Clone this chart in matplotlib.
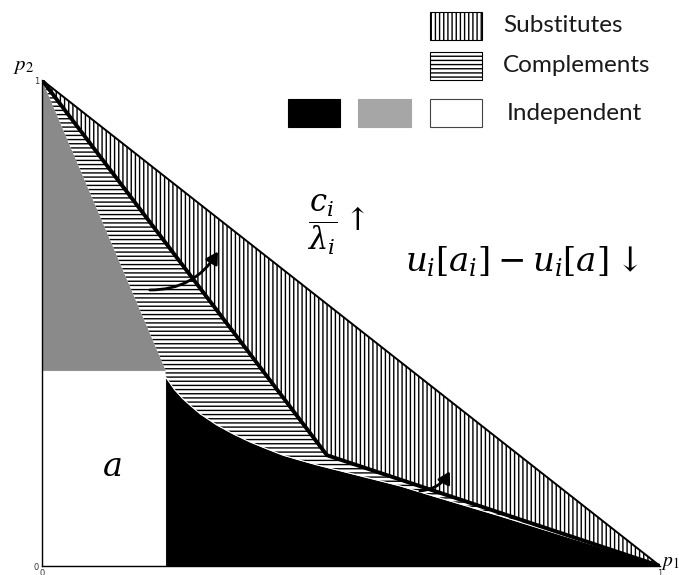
import matplotlib.pyplot as plt
import numpy as np
from matplotlib.patches import Polygon, Rectangle, FancyArrowPatch

plt.rcParams['mathtext.fontset'] = 'stix'
plt.rcParams['hatch.linewidth'] = 1.0

# corner of the independent box a = (a1, a2)
a_point = (0.2, 0.403)
# kink of the thick boundary between substitutes and complements
kink = (0.461, 0.228)
# upper edge of the black independent region
black_x = [0.2, 0.215, 0.228, 0.243, 0.256, 0.283, 0.309, 0.337, 0.364,
           0.390, 0.417, 0.445, 0.498, 0.579, 0.633, 0.741, 0.903, 1.0]
black_y = [0.389, 0.362, 0.344, 0.327, 0.313, 0.290, 0.272, 0.255, 0.241,
           0.228, 0.218, 0.208, 0.191, 0.165, 0.144, 0.103, 0.039, 0.0]

legend_rows = ["Substitutes", "Complements", "Independent"]

fig = plt.figure(figsize=(6.79, 5.75), dpi=100)
W, H = 679, 575
ax = fig.add_axes([42 / W, 9 / H, 618 / W, 486 / H])
ax.set_xlim(0, 1)
ax.set_ylim(0, 1)

# white box a, gray wedge above it
ax.add_patch(Rectangle((0, 0), a_point[0], a_point[1], facecolor='white',
                       edgecolor='#999999', lw=0.8, zorder=1))
ax.add_patch(Polygon([(0, a_point[1]), (0, 1), a_point], closed=True,
                     facecolor='#8a8a8a', lw=0, zorder=1))

# black region under the curve
bx = np.array(black_x)
by = np.array(black_y)
ax.fill_between(bx, 0, by, color='black', lw=0, zorder=2)

# complements: between gray/black edge and the thick line
comp = [(0, 1), a_point] + list(zip(bx, by)) + [kink]
ax.add_patch(Polygon(comp, closed=True, facecolor='white', edgecolor='black',
                     hatch='----', lw=0, zorder=2))

# substitutes: between thick line and p1 + p2 = 1
subs = [(0, 1), kink, (1, 0)]
ax.add_patch(Polygon(subs, closed=True, facecolor='white', edgecolor='black',
                     hatch='||||', lw=0, zorder=2))

ax.plot(bx, by, color='white', lw=0.8, zorder=3)
ax.plot([0, 1], [1, 0], color='black', lw=1.4, zorder=4)
ax.plot([0, kink[0], 1], [1, kink[1], 0], color='black', lw=2.8,
        solid_joinstyle='miter', zorder=4)

# curved arrows showing how the regions move
for tail, head in [((0.170, 0.568), (0.287, 0.652)),
                   ((0.607, 0.154), (0.662, 0.200))]:
    ax.add_patch(FancyArrowPatch(tail, head, connectionstyle='arc3,rad=0.3',
                                 arrowstyle='-|>,head_length=7,head_width=4',
                                 color='black', lw=2, zorder=5))

ax.text(0.113, 0.205, r'$a$', fontsize=24, ha='center', va='center',
        math_fontfamily='dejavuserif', zorder=6)
ax.text(0.428, 0.703, r'$\dfrac{c_i}{\lambda_i}\uparrow$', fontsize=22,
        ha='left', va='center', math_fontfamily='dejavuserif', zorder=6)
ax.text(0.588, 0.625, r'$u_i[a_i] - u_i[a]\downarrow$', fontsize=24.5,
        ha='left', va='center', math_fontfamily='dejavuserif', zorder=6)

for side in ['top', 'right']:
    ax.spines[side].set_visible(False)
for side in ['left', 'bottom']:
    ax.spines[side].set_linewidth(1.0)
    ax.spines[side].set_zorder(6)
ax.set_xticks([0, 1])
ax.set_yticks([0, 1])
ax.tick_params(length=0, pad=2, labelsize=6, colors='#333333')

fig.text(13 / W, 1 - 66 / H, r'$p_2$', fontsize=15, ha='left', va='center')
fig.text(661 / W, 1 - 562 / H, r'$p_1$', fontsize=14, ha='left', va='center')

# legend boxes drawn in pixel positions
def box(x0, y0, x1, y1, **kw):
    fig.patches.append(Rectangle((x0 / W, 1 - y1 / H), (x1 - x0) / W,
                                 (y1 - y0) / H, transform=fig.transFigure,
                                 figure=fig, **kw))

box(430, 12, 482, 40, facecolor='white', edgecolor='black', hatch='||||', lw=0.8)
box(430, 52, 482, 80, facecolor='white', edgecolor='black', hatch='----', lw=0.8)
box(288, 99, 340, 127, facecolor='black', edgecolor='black', lw=0.8)
box(358, 99, 411, 127, facecolor='#a6a6a6', edgecolor='#a6a6a6', lw=0.8)
box(430, 99, 482, 127, facecolor='white', edgecolor='#444444', lw=0.8)

for label, ty, tx in zip(legend_rows, [25, 66, 113], [503, 503, 507]):
    fig.text(tx / W, 1 - ty / H, label, fontsize=17.5, family='Lato',
             ha='left', va='center', color='#1a1a1a')

fig.savefig('out.png', dpi=100)
